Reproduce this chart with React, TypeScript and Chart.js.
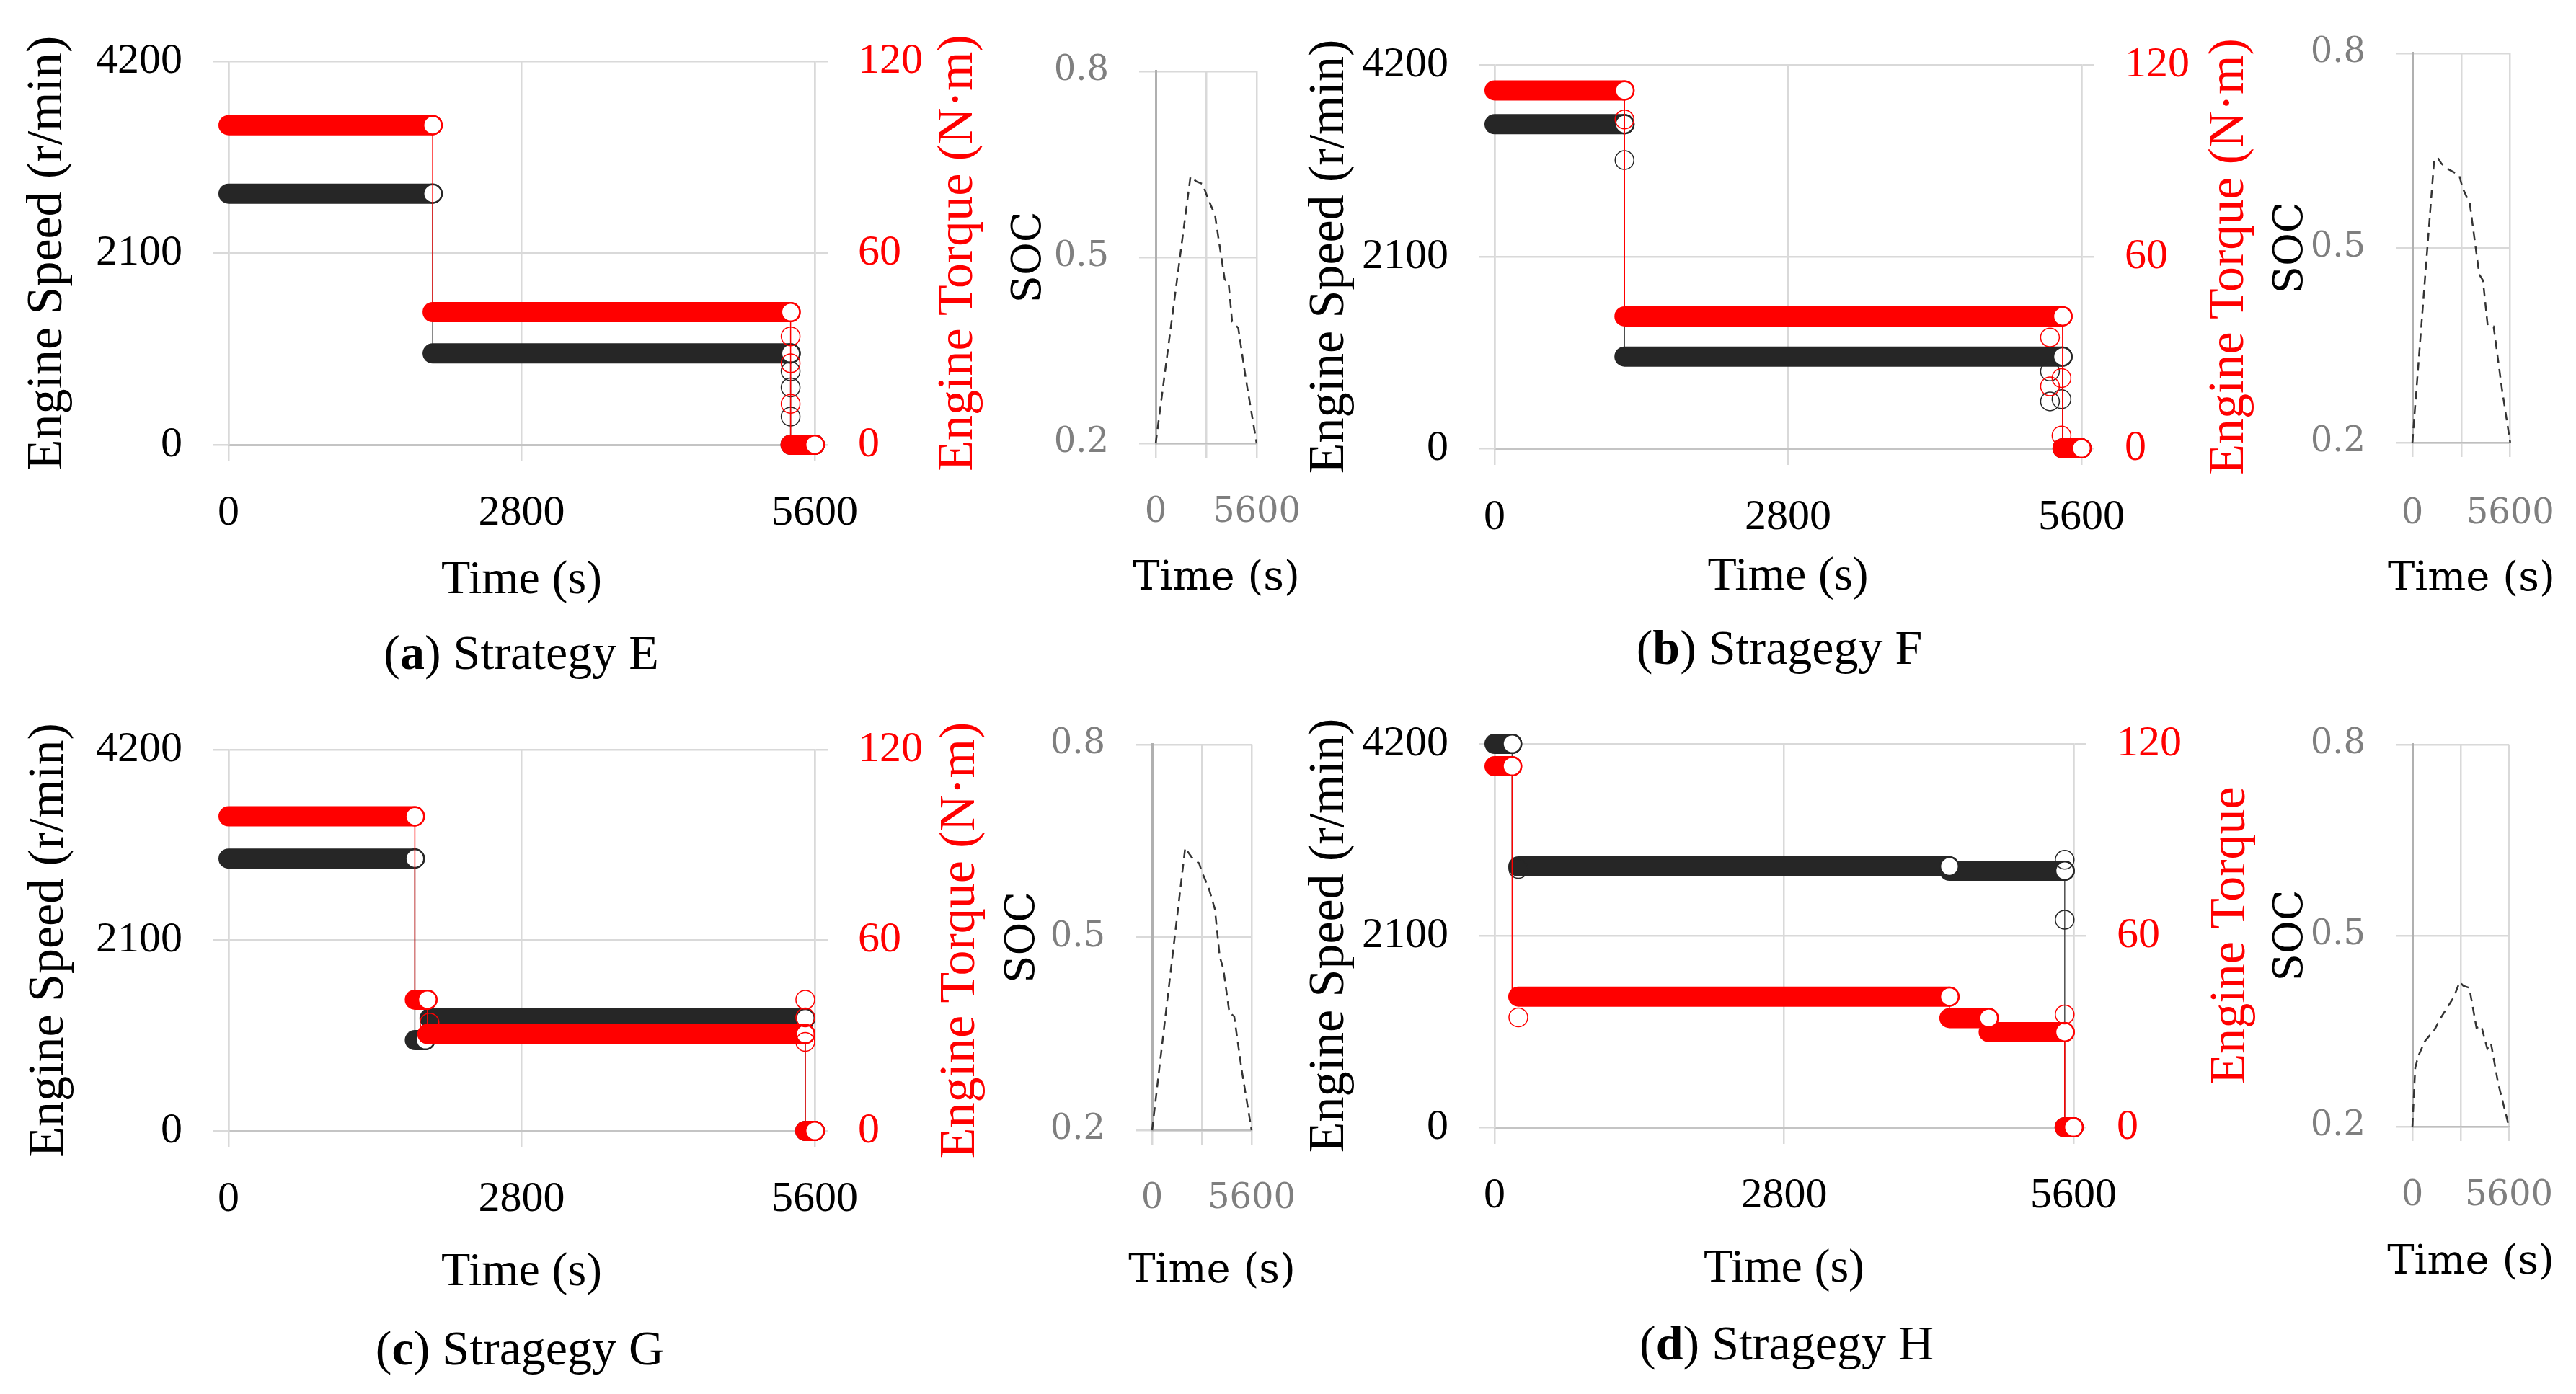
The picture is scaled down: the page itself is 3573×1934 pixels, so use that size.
import React, { useEffect, useRef } from "react";
import { Chart, registerables } from "chart.js";

Chart.register(...registerables);

const SERIF = "'Liberation Serif', 'Times New Roman', serif";
const WIDE = "'DejaVu Serif', serif";
const RED = "#ff0000";
const BLACK = "#262626";
const GRID = "#d9d9d9";

// ---------- axis ticks ----------
const timeTicks = [0, 2800, 5600];
const speedTicks = [0, 2100, 4200];
const torqueTicks = [0, 60, 120];
const socTicks = [0.2, 0.5, 0.8];

// ---------- data: segments [start time (s), end time (s), value] ----------
// (a) Strategy E
const speedSegsE = [[0, 1950, 2750], [1950, 5370, 1000], [5370, 5600, 0]];
const speedTransE = [[5370, 805], [5370, 627], [5370, 308]];
const torqueSegsE = [[0, 1950, 100], [1950, 5370, 41.5], [5370, 5600, 0]];
const torqueTransE = [[5370, 33.9], [5370, 25.5], [5370, 12.8]];
const socTimeE = [0, 1930, 2270, 2610, 2880, 3290, 3830, 4040, 4240, 4580, 4990, 5600];
const socE = [0.2, 0.63, 0.622, 0.618, 0.596, 0.568, 0.464, 0.46, 0.396, 0.386, 0.306, 0.2];

// (b) Stragegy F
const speedSegsF = [[0, 1240, 3550], [1240, 5420, 1005], [5420, 5600, 0]];
const speedTransF = [[1240, 3157], [5300, 842], [5300, 514], [5410, 538]];
const torqueSegsF = [[0, 1240, 112], [1240, 5420, 41.3], [5420, 5600, 0]];
const torqueTransF = [[1240, 102.9], [5300, 34.7], [5410, 22], [5300, 19.4], [5410, 4]];
const socTimeF = [0, 1250, 1455, 1660, 2070, 2680, 2880, 3290, 3830, 4040, 4310, 4650, 5120, 5600];
const socF = [0.2, 0.636, 0.639, 0.63, 0.621, 0.612, 0.592, 0.568, 0.459, 0.45, 0.381, 0.379, 0.284, 0.2];

// (c) Stragegy G
const speedSegsG = [[0, 1780, 3000], [1780, 1880, 1000], [1920, 5510, 1240], [5510, 5600, 0]];
const speedTransG: number[][] = [];
const torqueSegsG = [[0, 1780, 99], [1780, 1900, 41.3], [1900, 5510, 30.5], [5510, 5600, 0]];
const torqueTransG = [[1920, 34.1], [5510, 41.3], [5510, 35.7], [5510, 28]];
const socTimeG = [0, 1862, 2243, 2650, 2786, 3194, 3534, 3806, 4010, 4350, 4622, 5030, 5600];
const socG = [0.2, 0.639, 0.624, 0.615, 0.603, 0.576, 0.544, 0.47, 0.451, 0.383, 0.377, 0.296, 0.2];

// (d) Stragegy H
const speedSegsH = [[0, 170, 4200], [230, 4400, 2857], [4400, 5515, 2810], [5515, 5600, 0]];
const speedTransH = [[230, 2830], [5515, 2930], [5515, 2273]];
const torqueSegsH = [[0, 170, 113], [230, 4400, 40.9], [4400, 4780, 34.2], [4780, 5515, 29.8], [5515, 5600, 0]];
const torqueTransH = [[230, 34.4], [5515, 35.3]];
const socTimeH = [0, 167, 334, 724, 1281, 1700, 2396, 2744, 2953, 3301, 3719, 3998, 4346, 4555, 4973, 5600];
const socH = [0.2, 0.292, 0.31, 0.334, 0.352, 0.373, 0.403, 0.427, 0.421, 0.418, 0.355, 0.358, 0.322, 0.331, 0.268, 0.2];

// ---------- helpers ----------
const setTicks = (arr: number[]) => (s: any) => {
  s.ticks = arr.map((v) => ({ value: v }));
};

const rightTitlePlugin = {
  id: "rightTitle",
  afterDraw(chart: any, _args: any, opts: any) {
    if (!opts || !opts.text) return;
    const s = chart.scales.y1;
    const ctx = chart.ctx;
    ctx.save();
    ctx.fillStyle = opts.color;
    ctx.font = `${opts.size}px ${SERIF}`;
    ctx.textAlign = "center";
    ctx.textBaseline = "middle";
    ctx.translate(s.right - opts.size * 0.6, (chart.chartArea.top + chart.chartArea.bottom) / 2);
    ctx.rotate(-Math.PI / 2);
    ctx.fillText(opts.text, 0, 0);
    ctx.restore();
  },
};

const bottomTitlePlugin = {
  id: "bottomTitle",
  afterDraw(chart: any, _args: any, opts: any) {
    if (!opts || !opts.text) return;
    const s = chart.scales.x;
    const ctx = chart.ctx;
    ctx.save();
    ctx.fillStyle = opts.color;
    ctx.font = `${opts.size}px ${opts.family}`;
    ctx.textAlign = "center";
    ctx.textBaseline = "middle";
    ctx.fillText(opts.text, (chart.chartArea.left + chart.chartArea.right) / 2 + (opts.dx || 0), s.bottom - opts.size * 0.6);
    ctx.restore();
  },
};

function bandDatasets(segs: number[][], trans: number[][], color: string, pathColor: string, axis: string, baseOrder: number) {
  const out: any[] = [];
  const path: any[] = [];
  segs.forEach((s, i) => {
    path.push({ x: s[0], y: s[2] });
    path.push({ x: s[1], y: s[2] });
    if (i < segs.length - 1) path.push({ x: s[1], y: segs[i + 1][2] });
  });
  out.push({
    data: path, yAxisID: axis, showLine: true, borderColor: pathColor, borderWidth: 1.5,
    pointRadius: 0, order: baseOrder + 2, clip: false,
  });
  segs.forEach((s) =>
    out.push({
      data: [{ x: s[0], y: s[2] }, { x: s[1], y: s[2] }],
      yAxisID: axis, showLine: true, borderColor: color, borderWidth: 28, borderCapStyle: "round",
      pointRadius: [0, 12.8], pointBackgroundColor: "#ffffff", pointBorderColor: color, pointBorderWidth: 2.5,
      order: baseOrder + 1, clip: false,
    })
  );
  out.push({
    data: trans.map((t) => ({ x: t[0], y: t[1] })), yAxisID: axis, showLine: false,
    pointRadius: 13, pointBackgroundColor: "rgba(255,255,255,0)", pointBorderColor: color, pointBorderWidth: 1.5,
    order: baseOrder, clip: false,
  });
  return out;
}

type Box = { l: number; t: number; r: number; b: number };

const YTITLE = 70;
const XTITLE = 66;
const TICK = 60;
const TOPPAD = 60;

function MainChart(p: {
  box: Box; leftTitleX: number; rightTitleX: number; tickY: number; titleY: number;
  speedSegs: number[][]; speedTrans: number[][]; torqueSegs: number[][]; torqueTrans: number[][];
  torqueTitle: string;
}) {
  const ref = useRef<HTMLCanvasElement>(null);
  const cl = Math.round(p.leftTitleX - YTITLE * 0.6);
  const cr = Math.round(p.rightTitleX + YTITLE * 0.6);
  const ct = p.box.t - TOPPAD;
  const cb = Math.round(p.titleY + XTITLE * 0.6);
  const w = cr - cl;
  const h = cb - ct;
  const lw = p.box.l - cl;
  const rw = cr - p.box.r;
  const xh = cb - p.box.b;
  const xTL = 23;
  const xPad = Math.max(0, p.tickY - p.box.b - xTL - TICK * 0.6);

  useEffect(() => {
    if (!ref.current) return;
    const chart = new Chart(ref.current, {
      type: "scatter",
      data: {
        datasets: [
          ...bandDatasets(p.torqueSegs, p.torqueTrans, RED, RED, "y1", 0),
          ...bandDatasets(p.speedSegs, p.speedTrans, BLACK, "#4d4d4d", "y", 10),
        ],
      },
      options: {
        responsive: false,
        animation: false,
        devicePixelRatio: 1,
        events: [],
        layout: { padding: { top: TOPPAD, left: 0, right: 0, bottom: 0 } },
        plugins: {
          legend: { display: false },
          tooltip: { enabled: false },
          rightTitle: { text: p.torqueTitle, color: RED, size: YTITLE },
        } as any,
        scales: {
          x: {
            type: "linear", min: 0, max: 5600,
            afterBuildTicks: setTicks(timeTicks),
            ticks: { callback: (v: any) => String(v), font: { family: SERIF, size: TICK }, color: "#000", padding: xPad, maxRotation: 0, autoSkip: false },
            grid: { color: GRID, lineWidth: 2.5, tickLength: xTL },
            border: { color: "#c4c4c4", width: 3 },
            title: { display: true, text: "Time (s)", font: { family: SERIF, size: XTITLE }, color: "#000", padding: 0 },
            afterFit: (s: any) => { s.height = xh; },
          },
          y: {
            type: "linear", position: "left", min: 0, max: 4200,
            afterBuildTicks: setTicks(speedTicks),
            ticks: { callback: (v: any) => String(v), font: { family: SERIF, size: TICK }, color: "#000", padding: 42 },
            grid: { color: GRID, lineWidth: 2.5, tickLength: 22 },
            border: { color: GRID, width: 2.5 },
            title: { display: true, text: "Engine Speed (r/min)", font: { family: SERIF, size: YTITLE }, color: "#000", padding: 0 },
            afterFit: (s: any) => { s.width = lw; },
          },
          y1: {
            type: "linear", position: "right", min: 0, max: 120,
            afterBuildTicks: setTicks(torqueTicks),
            ticks: { callback: (v: any) => String(v), font: { family: SERIF, size: TICK }, color: RED, padding: 42 },
            grid: { drawOnChartArea: false, color: GRID, lineWidth: 2.5, tickLength: 18 },
            border: { color: GRID, width: 2.5 },
            title: { display: false },
            afterFit: (s: any) => { s.width = rw; },
          },
        },
      } as any,
      plugins: [rightTitlePlugin as any],
    });
    return () => chart.destroy();
  }, []);

  return (
    <canvas
      ref={ref}
      width={w}
      height={h}
      style={{ position: "absolute", left: cl, top: ct, width: w, height: h }}
    />
  );
}

const STITLE = 56;
const STICK = 48;

function SocChart(p: { box: Box; titleX: number; tickY: number; titleY: number; times: number[]; values: number[] }) {
  const ref = useRef<HTMLCanvasElement>(null);
  const cl = Math.round(p.titleX - STITLE * 0.6);
  const cr = p.box.r + 110;
  const ct = p.box.t - TOPPAD;
  const cb = Math.round(p.titleY + STITLE * 0.6);
  const w = cr - cl;
  const h = cb - ct;
  const lw = p.box.l - cl;
  const xh = cb - p.box.b;
  const xTL = 20;
  const xPad = Math.max(0, p.tickY - p.box.b - xTL - STICK * 0.6);

  useEffect(() => {
    if (!ref.current) return;
    const chart = new Chart(ref.current, {
      type: "scatter",
      data: {
        datasets: [
          {
            data: p.times.map((t, i) => ({ x: t, y: p.values[i] })),
            showLine: true, borderColor: "#333333", borderWidth: 2.5, borderDash: [12, 8],
            pointRadius: 0, tension: 0, clip: false,
          },
        ],
      },
      options: {
        responsive: false,
        animation: false,
        devicePixelRatio: 1,
        events: [],
        layout: { padding: { top: TOPPAD, left: 0, right: 110, bottom: 0 } },
        plugins: {
          legend: { display: false },
          tooltip: { enabled: false },
          bottomTitle: { text: "Time (s)", color: "#000", size: STITLE, family: WIDE, dx: 14 },
        } as any,
        scales: {
          x: {
            type: "linear", min: 0, max: 5600,
            afterBuildTicks: setTicks(timeTicks),
            ticks: { callback: (v: any) => (v === 2800 ? "" : String(v)), font: { family: WIDE, size: STICK }, color: "#7f7f7f", padding: xPad, maxRotation: 0, autoSkip: false },
            grid: { color: GRID, lineWidth: 2.5, tickLength: xTL },
            border: { color: "#bfbfbf", width: 2.5 },
            title: { display: false },
            afterFit: (s: any) => { s.height = xh; },
          },
          y: {
            type: "linear", position: "left", min: 0.2, max: 0.8,
            afterBuildTicks: setTicks(socTicks),
            ticks: { callback: (v: any) => Number(v).toFixed(1), font: { family: WIDE, size: STICK }, color: "#7f7f7f", padding: 42 },
            grid: { color: GRID, lineWidth: 2.5, tickLength: 23 },
            border: { color: "#b0b0b0", width: 3 },
            title: { display: true, text: "SOC", font: { family: WIDE, size: STITLE }, color: "#000", padding: 0 },
            afterFit: (s: any) => { s.width = lw; },
          },
        },
      } as any,
      plugins: [bottomTitlePlugin as any],
    });
    return () => chart.destroy();
  }, []);

  return (
    <canvas
      ref={ref}
      width={w}
      height={h}
      style={{ position: "absolute", left: cl, top: ct, width: w, height: h }}
    />
  );
}

function Caption(p: { x: number; y: number; letter: string; text: string }) {
  return (
    <div
      style={{
        position: "absolute", left: p.x, top: p.y, transform: "translate(-50%, -50%)",
        fontFamily: SERIF, fontSize: 68, lineHeight: 1, whiteSpace: "nowrap", color: "#000",
      }}
    >
      (<b>{p.letter}</b>) {p.text}
    </div>
  );
}

export default function App() {
  return (
    <div style={{ position: "absolute", left: 0, top: 0, width: 3573, height: 1934, background: "#fff", overflow: "hidden" }}>
      <MainChart box={{ l: 317, t: 67, r: 1130, b: 617 }} leftTitleX={67} rightTitleX={1330} tickY={712} titleY={805}
        speedSegs={speedSegsE} speedTrans={speedTransE} torqueSegs={torqueSegsE} torqueTrans={torqueTransE} torqueTitle="Engine Torque (N·m)" />
      <SocChart box={{ l: 1603, t: 88, r: 1743, b: 615 }} titleX={1429} tickY={712} titleY={803} times={socTimeE} values={socE} />
      <Caption x={723} y={905} letter="a" text="Strategy E" />

      <MainChart box={{ l: 2073, t: 72, r: 2887, b: 622 }} leftTitleX={1845} rightTitleX={3093} tickY={718} titleY={800}
        speedSegs={speedSegsF} speedTrans={speedTransF} torqueSegs={torqueSegsF} torqueTrans={torqueTransF} torqueTitle="Engine Torque (N·m)" />
      <SocChart box={{ l: 3346, t: 63, r: 3484, b: 614 }} titleX={3179} tickY={714} titleY={804} times={socTimeF} values={socF} />
      <Caption x={2468} y={898} letter="b" text="Stragegy F" />

      <MainChart box={{ l: 317, t: 1022, r: 1130, b: 1569 }} leftTitleX={69} rightTitleX={1333} tickY={1664} titleY={1765}
        speedSegs={speedSegsG} speedTrans={speedTransG} torqueSegs={torqueSegsG} torqueTrans={torqueTransG} torqueTitle="Engine Torque (N·m)" />
      <SocChart box={{ l: 1598, t: 1022, r: 1736, b: 1568 }} titleX={1420} tickY={1664} titleY={1764} times={socTimeG} values={socG} />
      <Caption x={721} y={1870} letter="c" text="Stragegy G" />

      <MainChart box={{ l: 2073, t: 1014, r: 2876, b: 1564 }} leftTitleX={1845} rightTitleX={3095} tickY={1659} titleY={1760}
        speedSegs={speedSegsH} speedTrans={speedTransH} torqueSegs={torqueSegsH} torqueTrans={torqueTransH} torqueTitle="Engine Torque" />
      <SocChart box={{ l: 3346, t: 1022, r: 3480, b: 1563 }} titleX={3179} tickY={1660} titleY={1752} times={socTimeH} values={socH} />
      <Caption x={2478} y={1863} letter="d" text="Stragegy H" />
    </div>
  );
}
